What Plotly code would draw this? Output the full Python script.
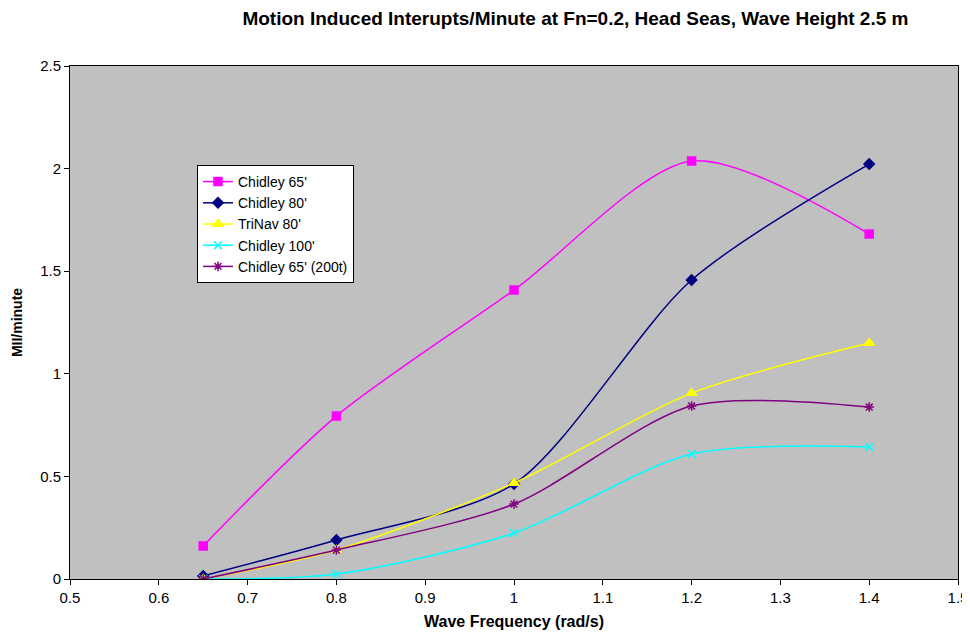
import plotly.graph_objects as go

# wave frequency (rad/s)
freq = [0.65, 0.8, 1.0, 1.2, 1.4]

chidley_65 = [0.161, 0.794, 1.408, 2.037, 1.681]
chidley_80 = [0.015, 0.190, 0.463, 1.457, 2.022]
trinav_80 = [0.0, 0.141, 0.468, 0.906, 1.150]
chidley_100 = [0.0, 0.024, 0.224, 0.609, 0.643]
chidley_65_200t = [0.0, 0.141, 0.365, 0.843, 0.838]

series = [
    ("Chidley 65'", chidley_65, "#FF00FF", "square", 8),
    ("Chidley 80'", chidley_80, "#000080", "diamond", 8),
    ("TriNav 80'", trinav_80, "#FFFF00", "triangle-up", 9),
    ("Chidley 100'", chidley_100, "#00FFFF", "x-thin", 8),
    ("Chidley 65' (200t)", chidley_65_200t, "#800080", "asterisk", 8),
]

fig = go.Figure()
for name, vals, color, sym, size in series:
    fig.add_scatter(
        x=freq, y=vals, name=name, mode="lines+markers",
        line=dict(color=color, width=1.5, shape="spline", smoothing=0.8),
        marker=dict(symbol=sym, size=size, color=color,
                    line=dict(color=color, width=1.5)),
    )

fig.update_layout(
    width=970, height=634,
    margin=dict(l=62, r=20, t=58, b=63, autoexpand=False),
    paper_bgcolor="white",
    plot_bgcolor="#C0C0C0",
    font=dict(family="Liberation Sans, Arial", size=15, color="black"),
    title=dict(
        text="<b>Motion Induced Interupts/Minute at Fn=0.2, Head Seas, Wave Height 2.5 m</b>",
        x=0.585, xanchor="center", y=0.983, yanchor="middle",
        font=dict(size=19),
    ),
    showlegend=True,
    legend=dict(
        x=0.143, y=0.807, xanchor="left", yanchor="top",
        bgcolor="white", bordercolor="black", borderwidth=1,
        font=dict(size=14), tracegroupgap=0, itemwidth=30,
    ),
)
fig.update_xaxes(
    range=[0.5, 1.5], dtick=0.1, tickformat="~g",
    showgrid=False, zeroline=False,
    showline=True, linecolor="black", linewidth=1, mirror=True,
    ticks="outside", ticklen=5, tickcolor="black",
    title=dict(text="<b>Wave Frequency (rad/s)</b>", font=dict(size=16), standoff=10),
)
fig.update_yaxes(
    range=[0, 2.5], dtick=0.5, tickformat="~g",
    showgrid=False, zeroline=False,
    showline=True, linecolor="black", linewidth=1, mirror=True,
    ticks="outside", ticklen=5, tickcolor="black",
    title=dict(text="<b>MII/minute</b>", font=dict(size=14), standoff=14),
)

fig.write_html("out.html")
